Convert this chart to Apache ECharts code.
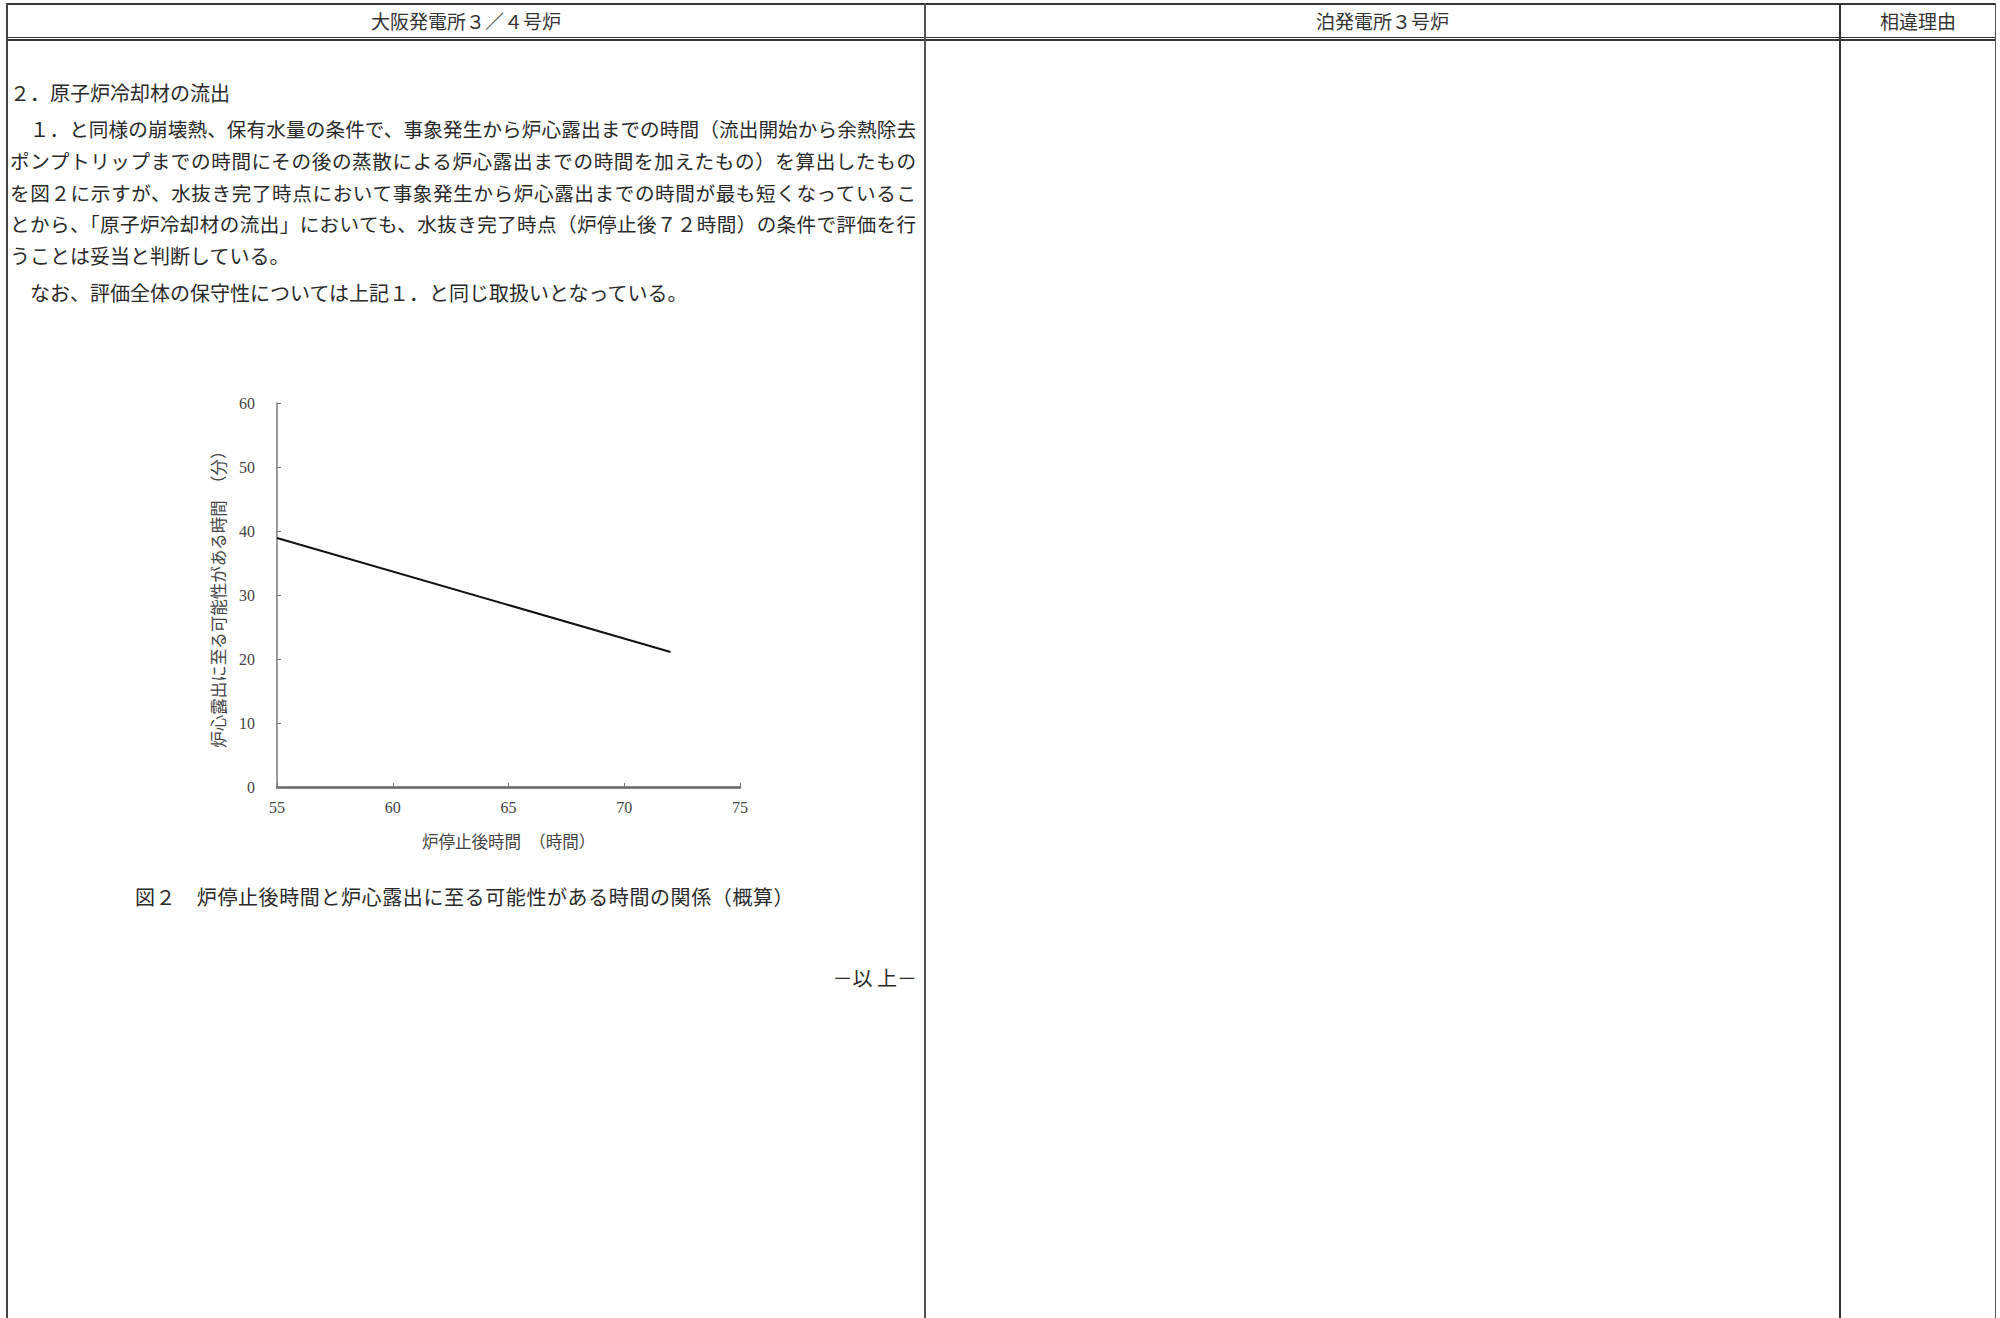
<!DOCTYPE html>
<html>
<head>
<meta charset="utf-8">
<script src="https://cdn.jsdelivr.net/npm/echarts@6/dist/echarts.min.js"></script>
<style>
  html, body { margin: 0; padding: 0; background: #fff; }
  body { width: 2000px; height: 1318px; position: relative; overflow: hidden;
         font-family: "Noto Sans CJK JP", sans-serif; color: #2a2a2a; }
  .ln { position: absolute; background: #333; }
  .hd { position: absolute; top: 6px; height: 30px; line-height: 30px; text-align: center;
        font-size: 19px; color: #333; }
  .tx { position: absolute; left: 10px; width: 906px; height: 30px; line-height: 30px;
        font-size: 20px; white-space: nowrap; }
  .jt { font-size: 19.6px; text-align: justify; text-align-last: justify; white-space: normal; }
  #main { position: absolute; left: 0; top: 0; width: 2000px; height: 1318px; }
</style>
</head>
<body>
<!-- 表の罫線 -->
<div class="ln" style="left:7px;top:3px;width:1989px;height:2px;"></div>
<div class="ln" style="left:7px;top:37px;width:1989px;height:1px;"></div>
<div class="ln" style="left:7px;top:39px;width:1989px;height:2px;"></div>
<div class="ln" style="left:6px;top:3px;width:2px;height:1315px;background:#444;"></div>
<div class="ln" style="left:924px;top:3px;width:2px;height:1315px;background:#555;"></div>
<div class="ln" style="left:1839px;top:3px;width:2px;height:1315px;background:#333;"></div>
<div class="ln" style="left:1995px;top:3px;width:1px;height:1315px;background:#555;"></div>

<div class="hd" style="left:8px;width:916px;">大阪発電所３／４号炉</div>
<div class="hd" style="left:926px;width:913px;">泊発電所３号炉</div>
<div class="hd" style="left:1841px;width:154px;">相違理由</div>

<div class="tx" style="top:78px;">２．原子炉冷却材の流出</div>
<div class="tx jt" style="top:114px;">　１．と同様の崩壊熱、保有水量の条件で、事象発生から炉心露出までの時間（流出開始から余熱除去</div>
<div class="tx jt" style="top:146px;">ポンプトリップまでの時間にその後の蒸散による炉心露出までの時間を加えたもの）を算出したもの</div>
<div class="tx jt" style="top:178px;">を図２に示すが、水抜き完了時点において事象発生から炉心露出までの時間が最も短くなっているこ</div>
<div class="tx jt" style="top:209px;">とから、「原子炉冷却材の流出」においても、水抜き完了時点（炉停止後７２時間）の条件で評価を行</div>
<div class="tx" style="top:241px;">うことは妥当と判断している。</div>
<div class="tx" style="top:278px;">　なお、評価全体の保守性については上記１．と同じ取扱いとなっている。</div>

<div class="tx" style="top:882px;left:135px;width:700px;letter-spacing:0.6px;">図２　炉停止後時間と炉心露出に至る可能性がある時間の関係（概算）</div>
<div class="tx" style="top:963px;left:700px;width:217px;text-align:right;">－以 上－</div>

<div id="main"></div>
<script>
// 図２のデータ（炉停止後時間[時間] と 炉心露出に至る可能性がある時間[分]）
var hours = [55, 72];
var minutes = [38.9, 21.1];
var xTicks = [55, 75, 5];   // min, max, interval
var yTicks = [0, 60, 10];

var xName = '炉停止後時間　（時間）';
var yName = '炉心露出に至る可能性がある時間　（分）';

var seriesData = [];
for (var i = 0; i < hours.length; i++) {
    seriesData.push([hours[i], minutes[i]]);
}

var myChart = echarts.init(document.getElementById('main'), null, {renderer: 'svg'});
var option = {
    animation: false,
    grid: {
        left: 277,
        top: 403,
        width: 463,
        height: 384
    },
    xAxis: {
        type: 'value',
        min: xTicks[0],
        max: xTicks[1],
        interval: xTicks[2],
        name: xName,
        nameLocation: 'middle',
        nameGap: 46,
        nameTextStyle: {fontSize: 16.5, color: '#444', fontFamily: 'Noto Sans CJK JP'},
        axisLine: {lineStyle: {color: '#666', width: 2.5}},
        axisTick: {inside: true, length: 4, lineStyle: {color: '#777'}},
        axisLabel: {margin: 12, fontSize: 16, color: '#444', fontFamily: 'Liberation Serif'},
        splitLine: {show: false}
    },
    yAxis: {
        type: 'value',
        min: yTicks[0],
        max: yTicks[1],
        interval: yTicks[2],
        name: yName,
        nameLocation: 'middle',
        nameGap: 51,
        nameTextStyle: {fontSize: 16.5, color: '#444', fontFamily: 'Noto Sans CJK JP'},
        axisLine: {show: true, lineStyle: {color: '#777', width: 1.5}},
        axisTick: {show: true, inside: true, length: 4, lineStyle: {color: '#777'}},
        axisLabel: {margin: 22, fontSize: 16, color: '#444', fontFamily: 'Liberation Serif'},
        splitLine: {show: false}
    },
    series: [{
        type: 'line',
        data: seriesData,
        symbol: 'none',
        lineStyle: {color: '#111', width: 2}
    }]
};
myChart.setOption(option);
</script>
</body>
</html>
